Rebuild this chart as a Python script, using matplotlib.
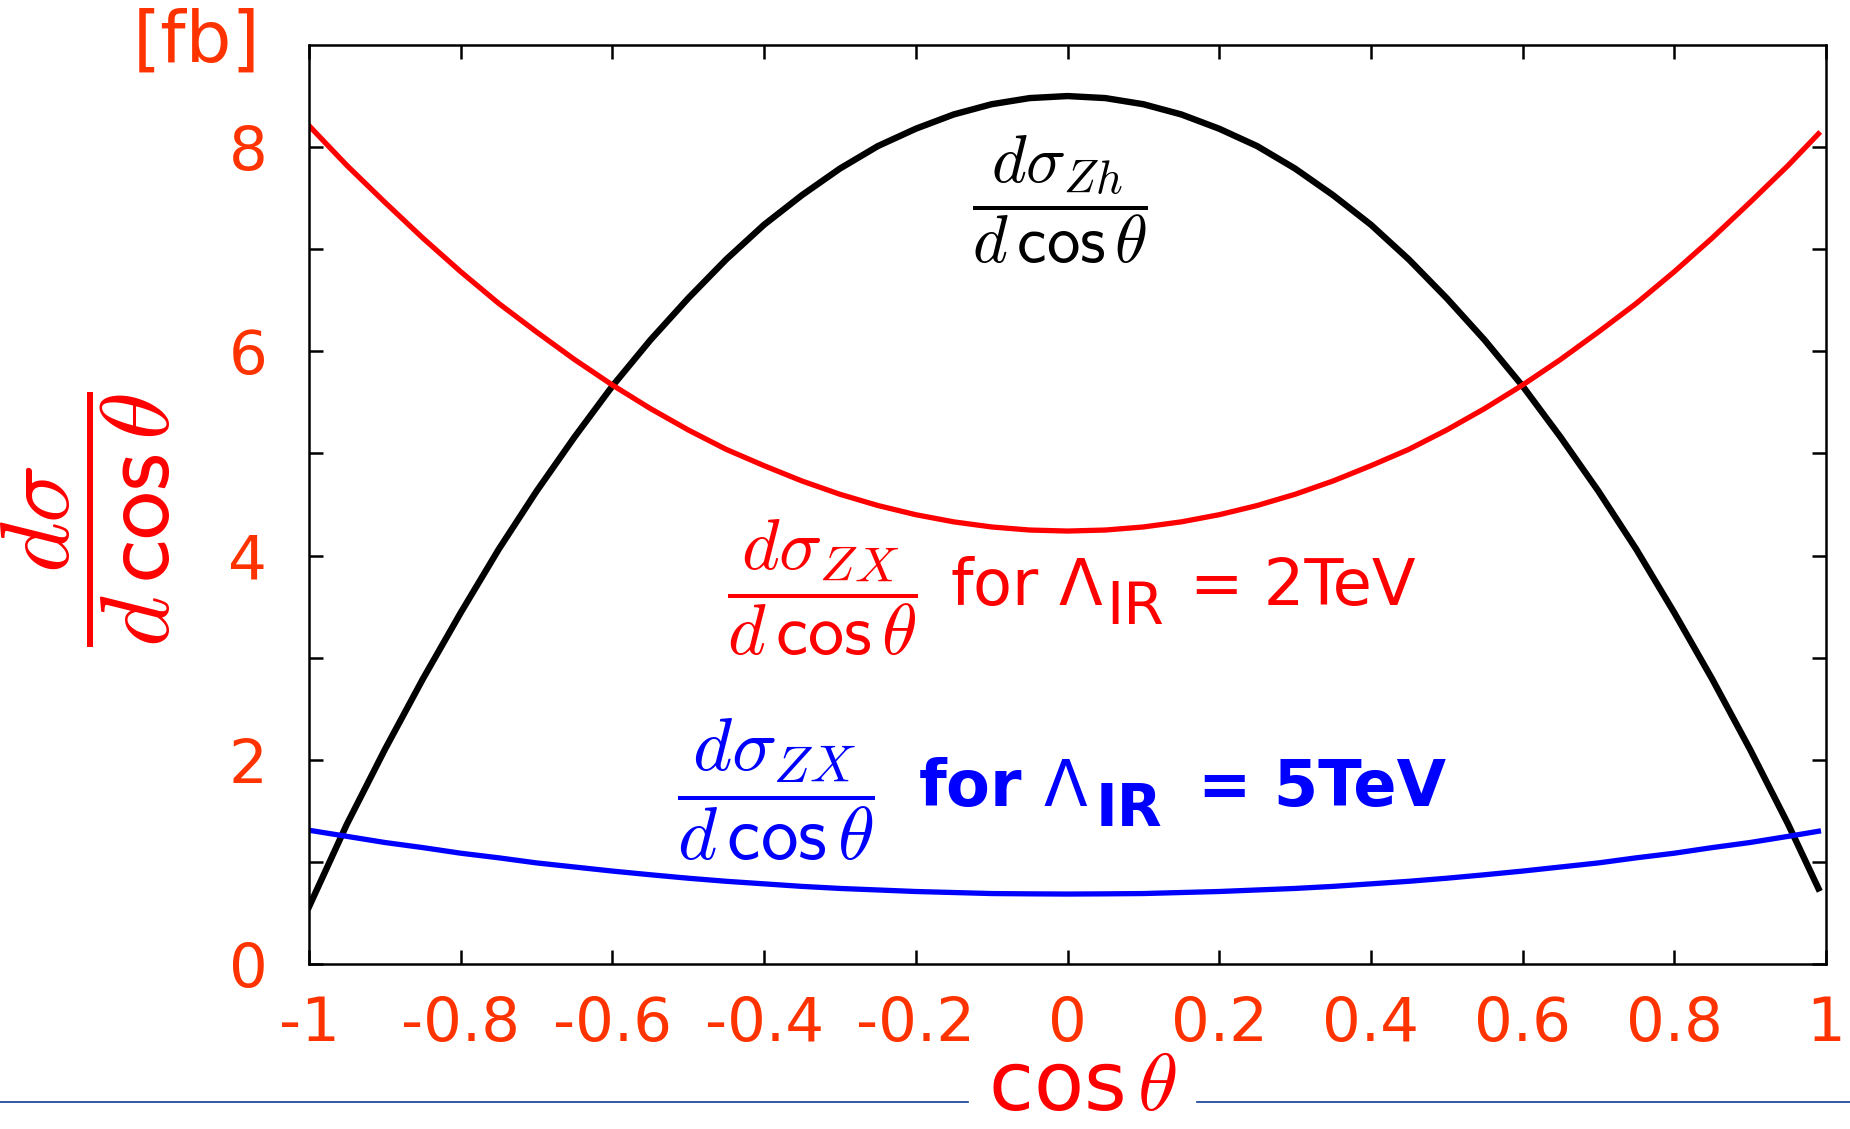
import matplotlib
matplotlib.use('Agg')
import matplotlib.pyplot as plt
from matplotlib.lines import Line2D

plt.rcParams['axes.unicode_minus'] = False
plt.rcParams['font.family'] = ['DejaVu Sans']
plt.rcParams['mathtext.fontset'] = 'cm'

# cos(theta) sampling points and the three curves
cos_theta = [-1.0, -0.95, -0.9, -0.85, -0.8, -0.75, -0.7, -0.65, -0.6, -0.55, -0.5,
             -0.45, -0.4, -0.35, -0.3, -0.25, -0.2, -0.15, -0.1, -0.05, 0.0,
             0.05, 0.1, 0.15, 0.2, 0.25, 0.3, 0.35, 0.4, 0.45, 0.5,
             0.55, 0.6, 0.65, 0.7, 0.75, 0.8, 0.85, 0.9, 0.95, 0.99]
sigma_zh = [0.56, 1.37, 2.10, 2.79, 3.44, 4.06, 4.63, 5.16, 5.66, 6.11, 6.52,
            6.90, 7.24, 7.53, 7.79, 8.01, 8.18, 8.32, 8.42, 8.48, 8.50,
            8.48, 8.42, 8.32, 8.18, 8.01, 7.79, 7.53, 7.24, 6.90, 6.52,
            6.11, 5.66, 5.16, 4.63, 4.06, 3.44, 2.79, 2.10, 1.37, 0.74]
sigma_zx_2tev = [8.21, 7.82, 7.46, 7.11, 6.78, 6.47, 6.19, 5.92, 5.67, 5.44, 5.23,
                 5.04, 4.88, 4.73, 4.60, 4.49, 4.40, 4.33, 4.28, 4.25, 4.24,
                 4.25, 4.28, 4.33, 4.40, 4.49, 4.60, 4.73, 4.88, 5.04, 5.23,
                 5.44, 5.67, 5.92, 6.19, 6.47, 6.78, 7.11, 7.46, 7.82, 8.13]
sigma_zx_5tev = [1.31, 1.25, 1.19, 1.14, 1.085, 1.04, 0.99, 0.95, 0.91, 0.874, 0.84,
                 0.81, 0.785, 0.76, 0.74, 0.725, 0.71, 0.70, 0.69, 0.687, 0.685,
                 0.687, 0.69, 0.70, 0.71, 0.725, 0.74, 0.76, 0.785, 0.81, 0.84,
                 0.874, 0.91, 0.95, 0.99, 1.04, 1.085, 1.14, 1.19, 1.25, 1.30]

x_ticks = [-1, -0.8, -0.6, -0.4, -0.2, 0, 0.2, 0.4, 0.6, 0.8, 1]
x_tick_labels = ['-1', '-0.8', '-0.6', '-0.4', '-0.2', '0', '0.2', '0.4', '0.6', '0.8', '1']
y_ticks = [0, 2, 4, 6, 8]
y_tick_labels = ['0', '2', '4', '6', '8']
y_minor = [1, 3, 5, 7]

W, H = 1850, 1129
tick_col = '#FF3300'


def fx(px):
    return px / W


def fy(py):
    return 1 - py / H


fig = plt.figure(figsize=(W / 100, H / 100), dpi=100)
ax = fig.add_axes([fx(309), fy(964), 1517 / W, 919 / H])

ax.plot(cos_theta, sigma_zh, '-', color='black', linewidth=4.6, solid_joinstyle='round')
ax.plot(cos_theta, sigma_zx_2tev, '-', color='#FF0000', linewidth=3.8, solid_joinstyle='round')
ax.plot(cos_theta, sigma_zx_5tev, '-', color='#0000FF', linewidth=3.8, solid_joinstyle='round')

ax.set_xlim(-1, 1)
ax.set_ylim(0, 9)
ax.set_xticks(x_ticks)
ax.set_xticklabels(x_tick_labels)
ax.set_yticks(y_ticks)
ax.set_yticklabels(y_tick_labels)
ax.set_yticks(y_minor, minor=True)

for s in ax.spines.values():
    s.set_linewidth(1.8)
ax.tick_params(which='both', direction='in', length=10, width=1.8,
               top=True, right=True, colors='black')
ax.tick_params(axis='x', which='major', labelsize=44, labelcolor=tick_col, pad=22)
ax.tick_params(axis='y', which='major', labelsize=44, labelcolor=tick_col, pad=30)

# unit in the top left corner
fig.text(fx(197), fy(42), '[fb]', fontsize=52, color=tick_col, ha='center', va='center')

# y label
fig.text(fx(86), fy(519), r'$\dfrac{d\sigma}{d\,\mathsf{cos}\,\theta}$',
         fontsize=70, color='#FF0000', rotation=90, ha='center', va='center')

# thin line along the bottom, broken where the x label sits
fig.add_artist(Line2D([0, fx(968)], [fy(1102), fy(1102)], color='#103C96',
                      linewidth=1.2, transform=fig.transFigure))
fig.add_artist(Line2D([fx(1197), 1], [fy(1102), fy(1102)], color='#103C96',
                      linewidth=1.2, transform=fig.transFigure))
fig.text(fx(1083), fy(1110), r'cos$\,\theta$', fontsize=59, color='#FF0000',
         ha='center', va='baseline')

# curve annotations
fig.text(fx(1060), fy(200), r'$\dfrac{d\sigma_{Zh}}{d\,\mathsf{cos}\,\theta}$',
         fontsize=48, color='black', ha='center', va='center')

fig.text(fx(822), fy(588), r'$\dfrac{d\sigma_{ZX}}{d\,\mathsf{cos}\,\theta}$',
         fontsize=52, color='#FF0000', ha='center', va='center')
fig.text(fx(950), fy(605), r'for $\Lambda$', fontsize=46, color='#FF0000',
         ha='left', va='baseline', math_fontfamily='dejavusans')
fig.text(fx(1106), fy(624), 'IR', fontsize=42, color='#FF0000',
         ha='left', va='baseline')
fig.text(fx(1190), fy(605), '= 2TeV', fontsize=46, color='#FF0000',
         ha='left', va='baseline')

fig.text(fx(776), fy(790), r'$\dfrac{d\sigma_{ZX}}{d\,\mathsf{cos}\,\theta}$',
         fontsize=54, color='#0000FF', ha='center', va='center')
fig.text(fx(918), fy(806), r'for $\Lambda$', fontsize=46, color='#0000FF',
         ha='left', va='baseline', math_fontfamily='dejavusans', fontweight='bold')
fig.text(fx(1096), fy(826), 'IR', fontsize=42, color='#0000FF',
         ha='left', va='baseline', fontweight='bold')
fig.text(fx(1198), fy(806), '= 5TeV', fontsize=46, color='#0000FF',
         ha='left', va='baseline', fontweight='bold')

plt.savefig('out.png', dpi=100)
